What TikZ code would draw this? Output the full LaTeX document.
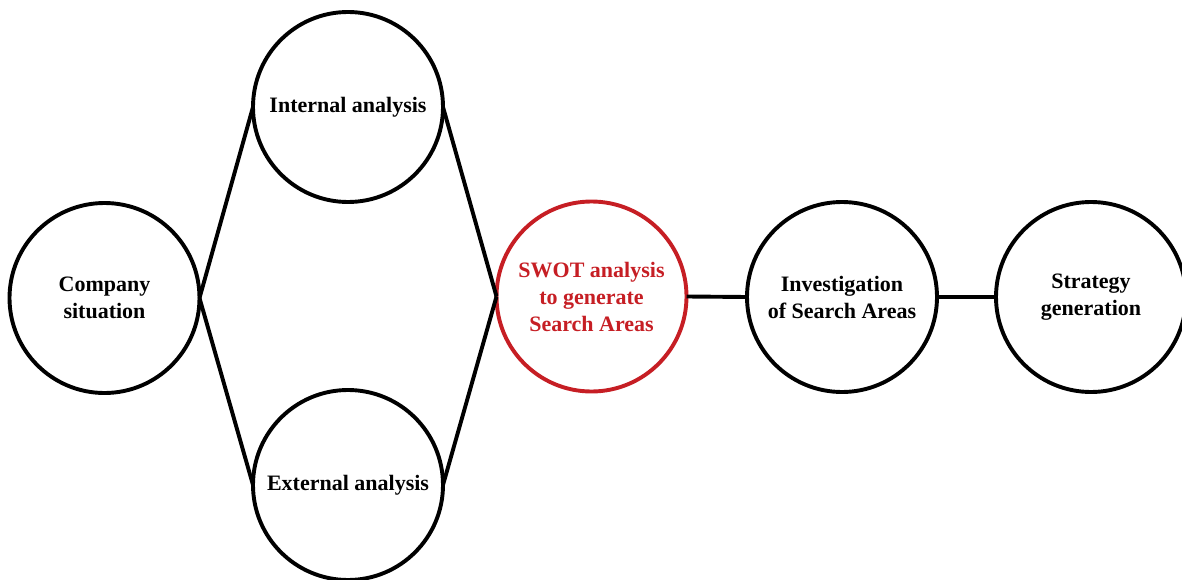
\documentclass[tikz,border=0pt]{standalone}
\usepackage{fontspec}
\setmainfont{Liberation Serif}
\definecolor{swotred}{RGB}{198,30,36}
\begin{document}
\begin{tikzpicture}[x=1pt,y=-1pt,
  stage/.style={circle,draw=black,line width=3.9pt,minimum size=190pt,inner sep=0pt,outer sep=0pt,
    align=center,font=\fontsize{22}{27}\selectfont\bfseries},
  redstage/.style={stage,draw=swotred,text=swotred},
  link/.style={line width=3.9pt,black}]
\useasboundingbox (0,0) rectangle (1182,580);
\node[stage] (comp) at (104.5,298) {Company\\situation};
\node[stage] (int) at (348,107) {Internal analysis};
\node[stage] (ext) at (348,485) {External analysis};
\node[redstage] (swot) at (591.5,296.5) {SWOT analysis\\to generate\\Search Areas};
\node[stage] (inv) at (842,297) {Investigation\\of Search Areas};
\node[stage] (strat) at (1091,297) {Strategy\\generation};
\draw[link] (comp.east) -- (int.west);
\draw[link] (comp.east) -- (ext.west);
\draw[link] (int.east) -- (swot.west);
\draw[link] (ext.east) -- (swot.west);
\draw[link] (swot.east) -- (inv.west);
\draw[link] (inv.east) -- (strat.west);
\end{tikzpicture}
\end{document}
